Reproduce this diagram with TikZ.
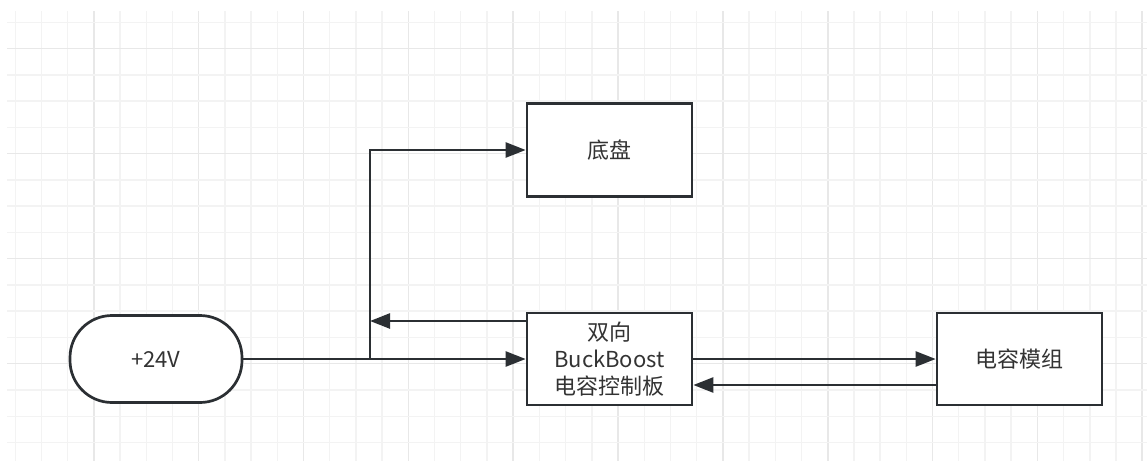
\documentclass[tikz,border=0pt]{standalone}
\usepackage{fontspec}
\setmainfont{Noto Sans CJK SC}
\usetikzlibrary{arrows.meta,calc}
\definecolor{gridminor}{HTML}{F3F3F3}
\definecolor{gridmajor}{HTML}{E8E8E8}
\definecolor{edge}{HTML}{2B2F33}
\definecolor{txt}{HTML}{333333}
\tikzset{
  block/.style={draw=edge,line width=2.7pt,fill=white,minimum width=165pt,minimum height=92pt,inner sep=0pt,
    font=\fontsize{22}{27}\selectfont,text=txt,align=center},
  conn/.style={draw=edge,line width=2.5pt,-{Triangle[length=20pt,width=15pt]}},
}
\begin{document}
\begin{tikzpicture}[x=1pt,y=-1pt]
\useasboundingbox (0,0) rectangle (1147,461);
\fill[white] (0,0) rectangle (1147,461);
% grid
\begin{scope}
\clip (7,11) rectangle (1147,461);
\foreach \i in {0,...,43} {
  \pgfmathsetmacro{\xx}{15.2+26.21*\i}
  \pgfmathtruncatemacro{\m}{mod(\i+1,4)}
  \ifnum\m=0 \draw[gridmajor,line width=1.6pt] (\xx,11) -- (\xx,461);
  \else \draw[gridminor,line width=1.4pt] (\xx,11) -- (\xx,461); \fi
}
\foreach \j in {0,...,16} {
  \pgfmathsetmacro{\yy}{22.3+26.26*\j}
  \pgfmathtruncatemacro{\m}{mod(\j+3,4)}
  \ifnum\m=0 \draw[gridmajor,line width=1.6pt] (7,\yy) -- (1147,\yy);
  \else \draw[gridminor,line width=1.4pt] (7,\yy) -- (1147,\yy); \fi
}
\end{scope}
% nodes
\node[block,minimum width=172pt,minimum height=87pt,rounded corners=42pt] (v24) at (156,359) {+24V};
\node[block] (buck) at (609.5,359) {双向\\BuckBoost\\电容控制板};
\node[block,minimum height=93pt] (chassis) at (609.5,150) {底盘};
\node[block] (cap) at (1019.5,359) {电容模组};
% connectors
\coordinate (j) at (370,359);
\coordinate (bw) at ($(buck.west)+(0,-38)$);
\coordinate (be) at ($(buck.east)+(0,26)$);
\coordinate (cw) at ($(cap.west)+(0,26)$);
\draw[conn] (v24.east) -- (buck.west);
\draw[conn] (j) |- (chassis.west);
\draw[conn] (bw) -- (j |- bw);
\draw[conn] (buck.east) -- (cap.west);
\draw[conn] (cw) -- (be);
\end{tikzpicture}
\end{document}
